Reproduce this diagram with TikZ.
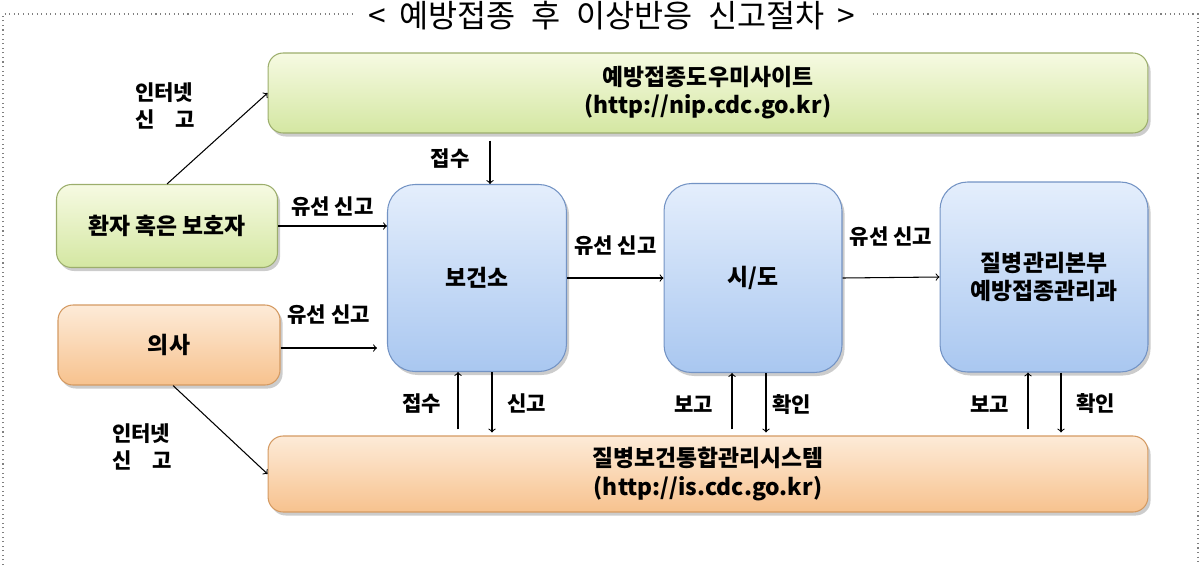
\documentclass[tikz,border=0pt]{standalone}
\usepackage{fontspec}
\setmainfont{Noto Sans CJK KR}
\usetikzlibrary{shadows,calc}

\definecolor{grtop}{HTML}{F6FAE2}
\definecolor{grbot}{HTML}{D4E7A2}
\definecolor{grline}{HTML}{9CAE6C}
\definecolor{ortop}{HTML}{FDEBD8}
\definecolor{orbot}{HTML}{F7C28E}
\definecolor{orline}{HTML}{D49A62}
\definecolor{bltop}{HTML}{E4EEFC}
\definecolor{blbot}{HTML}{A9C7F0}
\definecolor{blline}{HTML}{7393C4}

\tikzset{
  box/.style={draw, line width=0.6pt, align=center,
    font=\bfseries\fontsize{13}{16}\selectfont,
    drop shadow={opacity=0.4, shadow xshift=1.5pt, shadow yshift=-2pt}},
  greenbox/.style={box, rounded corners=0.3cm, draw=grline, top color=grtop, bottom color=grbot},
  orangebox/.style={box, rounded corners=0.3cm, draw=orline, top color=ortop, bottom color=orbot},
  bluebox/.style={box, rounded corners=0.55cm, draw=blline, top color=bltop, bottom color=blbot},
  lbl/.style={font=\bfseries\fontsize{12}{15}\selectfont},
  arr/.style={->, line width=0.6pt},
}

\begin{document}
\begin{tikzpicture}[x=0.02cm,y=-0.02cm]
\useasboundingbox (0,0) rectangle (1202,565);
% frame and title
\draw[dotted, gray, line width=0.6pt] (3,565) -- (3,14) -- (1198,14) -- (1198,565);
\node[fill=white, inner xsep=8pt, inner ysep=1pt, font=\fontsize{18}{20}\selectfont] (title) at (612,16) {<\hspace{0.4em}예방접종\hspace{0.5em}후\hspace{0.5em}이상반응\hspace{0.5em}신고절차\hspace{0.4em}>};

% boxes
\node[greenbox, minimum width=17.6cm, minimum height=1.6cm] (nip) at (708,93) {예방접종도우미사이트\\(http://nip.cdc.go.kr)};
\node[greenbox, minimum width=4.42cm, minimum height=1.66cm] (pat) at (167,226) {환자 혹은 보호자};
\node[orangebox, minimum width=4.44cm, minimum height=1.6cm] (doc) at (169,345) {의사};
\node[bluebox, minimum width=3.58cm, minimum height=3.74cm] (bgs) at (477,278) {보건소};
\node[bluebox, minimum width=3.56cm, minimum height=3.78cm] (sido) at (753,278) {시/도};
\node[bluebox, minimum width=4.16cm, minimum height=3.8cm] (kdca) at (1044,277) {질병관리본부\\예방접종관리과};
\node[orangebox, minimum width=17.6cm, minimum height=1.52cm] (is) at (708,474) {질병보건통합관리시스템\\(http://is.cdc.go.kr)};

% internet reports
\node[lbl, align=left] (net1) at (165,106) {인터넷\\신\hspace{1em}고};
\node[lbl, align=left] (net2) at (142,447) {인터넷\\신\hspace{1em}고};
\draw[arr] (pat.north) -- (nip.west);
\draw[arr] ($(doc.south)+(0.08cm,0)$) -- (is.west);

% phone reports
\draw[arr] (pat.east) -- (bgs.west |- pat.east) node[lbl, midway, above=2pt] (ph1) {유선 신고};
\draw[arr] ($(doc.east)+(0,-0.06cm)$) -- ($(bgs.west |- doc.east)+(-0.2cm,-0.06cm)$) node[lbl, midway, above=10pt] (ph2) {유선 신고};
\draw[arr] (bgs.east) -- (sido.west) node[lbl, midway, above=9pt] (ph3) {유선 신고};
\draw[arr] (sido.east) -- (kdca.west) node[lbl, midway, above=14pt] (ph4) {유선 신고};

% vertical links
\coordinate (c0) at (490,0);
\coordinate (u1) at (458,0);
\coordinate (d1) at (492,0);
\coordinate (u2) at (732,0);
\coordinate (d2) at (766,0);
\coordinate (u3) at (1028,0);
\coordinate (d3) at (1061,0);
\draw[arr, shorten <=0.14cm] (nip.south -| c0) -- (bgs.north -| c0) node[lbl, midway, left=8pt] (rc0) {접수};
\draw[arr, shorten <=0.12cm] (is.north -| u1) -- (bgs.south -| u1) node[lbl, midway, left=6pt] (rc1) {접수};
\draw[arr, shorten >=0.06cm] (bgs.south -| d1) -- (is.north -| d1) node[lbl, midway, right=5pt] (rp1) {신고};
\draw[arr, shorten <=0.12cm] (is.north -| u2) -- (sido.south -| u2) node[lbl, midway, left=7pt] (rp2) {보고};
\draw[arr, shorten >=0.06cm] (sido.south -| d2) -- (is.north -| d2) node[lbl, midway, right=0pt] (ck2) {확인};
\draw[arr, shorten <=0.12cm] (is.north -| u3) -- (kdca.south -| u3) node[lbl, midway, left=7pt] (rp3) {보고};
\draw[arr, shorten >=0.06cm] (kdca.south -| d3) -- (is.north -| d3) node[lbl, midway, right=5pt] (ck3) {확인};
\end{tikzpicture}
\end{document}
